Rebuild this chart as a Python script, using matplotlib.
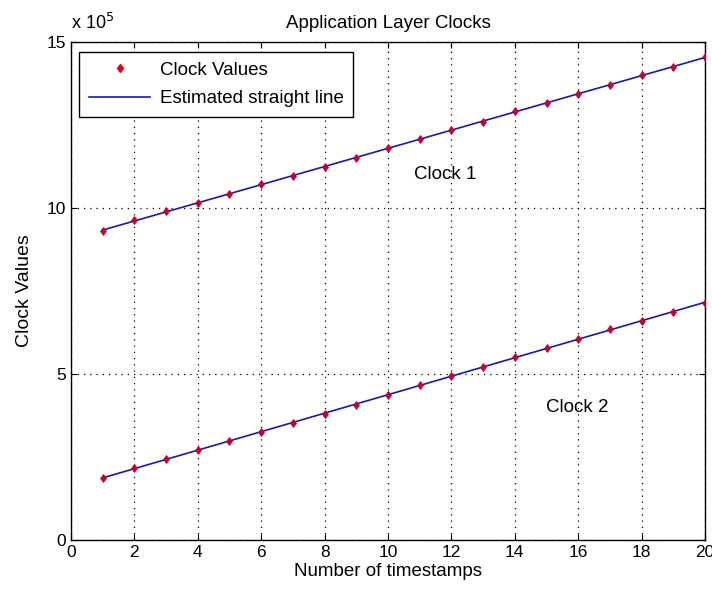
import numpy as np
import matplotlib
matplotlib.use("Agg")
import matplotlib.pyplot as plt

timestamps = list(range(1, 21))
clock1 = [9.31, 9.64, 9.91, 10.15, 10.42, 10.72, 10.96, 11.23, 11.51, 11.81,
          12.08, 12.35, 12.59, 12.92, 13.16, 13.43, 13.70, 14.01, 14.25, 14.55]
clock2 = [1.87, 2.17, 2.44, 2.71, 2.98, 3.25, 3.52, 3.80, 4.07, 4.37,
          4.67, 4.94, 5.21, 5.51, 5.78, 6.05, 6.36, 6.60, 6.87, 7.14]
xticks = list(range(0, 21, 2))
yticks = [0, 5, 10, 15]

plt.rcParams['font.family'] = ['Liberation Sans', 'DejaVu Sans']
plt.rcParams['font.size'] = 13

fig = plt.figure(figsize=(7.12, 5.96), dpi=100)
ax = fig.add_axes([0.0997, 0.094, 0.8905, 0.8355])

x = np.array(timestamps, dtype=float)
for c in (clock1, clock2):
    y = np.array(c) * 1e5
    p = np.polyfit(x, y, 1)
    ax.plot(x, np.polyval(p, x), color='#1a1aa8', lw=1.2, zorder=2)
    ax.plot(x, y, linestyle='none', marker='d', markersize=4.5,
            color='#c0002a', markeredgewidth=0.5, zorder=3)

# legend proxies
ax.plot([], [], linestyle='none', marker='d', markersize=4.5, color='#e0001a',
        label='Clock Values')
ax.plot([], [], color='#1a1aa8', lw=1.2, label='Estimated straight line')
leg = ax.legend(loc='upper left', bbox_to_anchor=(0.013, 0.979), fancybox=False,
                edgecolor='black', framealpha=1, fontsize=13.5, handlelength=3.3,
                borderpad=0.5, labelspacing=0.6, handletextpad=0.5,
                borderaxespad=0)
leg.get_frame().set_linewidth(1.0)
leg.set_zorder(5)

ax.set_xlim(0, 20)
ax.set_ylim(0, 15e5)
ax.set_xticks(xticks)
ax.set_yticks([v * 1e5 for v in yticks])
ax.set_yticklabels([str(v) for v in yticks])
ax.tick_params(direction='in', top=True, right=True, length=4, labelsize=12.5)
ax.grid(True, linestyle=(0, (1, 4)), color='black', linewidth=0.9)
for s in ax.spines.values():
    s.set_linewidth(1.0)

ax.text(0, 1.018, r'x 10$^5$', transform=ax.transAxes, fontsize=13, ha='left',
        va='bottom')
ax.text(11.8, 11.0e5, 'Clock 1', ha='center', va='center', fontsize=13.5)
ax.text(15.96, 3.98e5, 'Clock 2', ha='center', va='center', fontsize=13.5)

ax.set_title('Application Layer Clocks', fontsize=13.5, pad=10)
ax.set_xlabel('Number of timestamps', fontsize=13.5, labelpad=2)
ax.set_ylabel('Clock Values', fontsize=14, labelpad=10)

fig.savefig('out.png', dpi=100)
